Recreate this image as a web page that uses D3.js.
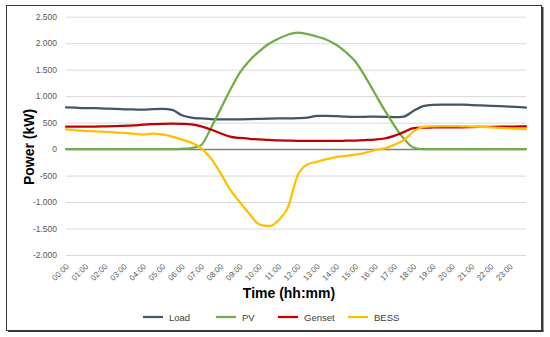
<!DOCTYPE html>
<html>
<head>
<meta charset="utf-8">
<script src="https://cdn.jsdelivr.net/npm/d3@7"></script>
<style>
  html, body { margin: 0; padding: 0; background: #ffffff; }
  svg { display: block; }
  text { font-family: "Liberation Sans", Arial, sans-serif; }
</style>
</head>
<body>
<svg id="chart" width="550" height="337"></svg>
<script>
// ---------- data ----------
const times = ["00:00","00:30","01:00","01:30","02:00","02:30","03:00","03:30","04:00","04:30",
  "05:00","05:30","06:00","06:30","07:00","07:30","08:00","08:30","09:00","09:30",
  "10:00","10:30","11:00","11:30","12:00","12:30","13:00","13:30","14:00","14:30",
  "15:00","15:30","16:00","16:30","17:00","17:30","18:00","18:30","19:00","19:30",
  "20:00","20:30","21:00","21:30","22:00","22:30","23:00","23:30","23:50"];

const load = [790,782,775,772,765,758,752,748,745,755,
  760,740,640,595,578,568,562,560,562,565,
  570,575,578,580,585,595,625,628,622,612,
  608,610,612,610,605,615,720,810,835,840,
  840,838,832,825,818,810,800,792,785];

const pv = [0,0,0,0,0,0,0,0,0,0,
  0,0,5,20,75,390,750,1110,1440,1670,
  1840,1985,2085,2160,2200,2170,2125,2065,1970,1830,
  1650,1370,1055,740,450,200,30,0,0,0,
  0,0,0,0,0,0,0,0,0];

const genset = [425,425,425,425,428,432,440,448,460,470,
  478,480,476,465,430,370,300,236,210,195,
  185,172,165,160,155,155,155,155,155,158,
  162,170,180,200,250,320,395,405,408,410,
  410,412,415,418,420,422,425,428,428];

const bess = [370,355,345,335,325,315,305,290,275,290,
  280,235,180,120,20,-170,-450,-760,-1000,-1220,
  -1420,-1455,-1350,-1100,-500,-290,-240,-190,-150,-130,
  -105,-70,-20,15,80,170,330,420,430,435,
  435,430,425,420,410,400,390,380,375];

const seriesNames = ["Load","PV","Genset","BESS"];
const seriesColors = ["#44546A","#70AD47","#C00000","#FFC000"];
const seriesValues = [load, pv, genset, bess];

const yTicks = [-2000,-1500,-1000,-500,0,500,1000,1500,2000,2500];
const xTickLabels = ["00:00","01:00","02:00","03:00","04:00","05:00","06:00","07:00","08:00","09:00",
  "10:00","11:00","12:00","13:00","14:00","15:00","16:00","17:00","18:00","19:00",
  "20:00","21:00","22:00","23:00"];

// ---------- helpers ----------
const toHours = s => { const [h, m] = s.split(":").map(Number); return h + m / 60; };
const fmt = v => d3.format(",")(v).replace(/,/g, ".").replace("\u2212", "-");

// ---------- layout ----------
const svg = d3.select("#chart");
const plot = { left: 66, right: 526, top: 16.7, bottom: 255 };

const x = d3.scaleLinear().domain([0, toHours("23:50")]).range([plot.left, plot.right]);
const y = d3.scaleLinear().domain([-2000, 2500]).range([plot.bottom, plot.top]);

// frame with shadow
svg.append("rect").attr("x", 6.5).attr("y", 5.5).attr("width", 535).attr("height", 325)
  .attr("fill", "#fff").attr("stroke", "#3a3a3a").attr("stroke-width", 1);
svg.append("line").attr("x1", 542.5).attr("x2", 542.5).attr("y1", 7).attr("y2", 331.5)
  .attr("stroke", "#3a3a3a").attr("stroke-width", 2);
svg.append("line").attr("x1", 8).attr("x2", 543.5).attr("y1", 331).attr("y2", 331)
  .attr("stroke", "#3a3a3a").attr("stroke-width", 2);

// y grid + labels via axis
const yAxis = d3.axisLeft(y).tickValues(yTicks).tickSize(-(plot.right - plot.left)).tickPadding(9)
  .tickFormat(fmt);
const gy = svg.append("g").attr("transform", `translate(${plot.left},0)`).call(yAxis);
gy.select(".domain").remove();
gy.selectAll(".tick line").attr("stroke", d => d === 0 ? "#7f7f7f" : "#d9d9d9")
  .attr("stroke-width", d => d === 0 ? 1.5 : 1);
gy.selectAll(".tick text").attr("fill", "#595959").style("font-size", "8.5px")
  .style("font-family", "'Liberation Sans', Arial, sans-serif");
gy.selectAll(".tick").filter(d => d === 0).raise();

// x labels via axis
const xAxis = d3.axisBottom(x).tickValues(xTickLabels.map(toHours))
  .tickFormat((d, i) => xTickLabels[i]).tickSize(0).tickPadding(0);
const gx = svg.append("g").attr("transform", `translate(0,${plot.bottom})`).call(xAxis);
gx.select(".domain").remove();
gx.selectAll(".tick text")
  .attr("fill", "#595959").style("font-size", "8px")
  .style("font-family", "'Liberation Sans', Arial, sans-serif")
  .attr("text-anchor", "end").attr("dy", null).attr("y", 0)
  .attr("transform", "translate(3,12) rotate(-45)");

// lines
const line = d3.line().x((d, i) => x(toHours(times[i]))).y(d => y(d)).curve(d3.curveMonotoneX);
seriesValues.forEach((vals, k) => {
  svg.append("path").datum(vals).attr("d", line)
    .attr("fill", "none").attr("stroke", seriesColors[k]).attr("stroke-width", 2.25)
    .attr("stroke-linejoin", "round").attr("stroke-linecap", "round");
});

// axis titles
svg.append("text").attr("transform", "translate(34,147) rotate(-90)")
  .attr("text-anchor", "middle").style("font-size", "14px").style("font-weight", "bold")
  .attr("fill", "#000").text("Power (kW)");
svg.append("text").attr("x", 289).attr("y", 298)
  .attr("text-anchor", "middle").style("font-size", "14px").style("font-weight", "bold")
  .attr("fill", "#000").text("Time (hh:mm)");

// legend
const legendX = [143, 216, 278, 348];
const lg = svg.append("g");
seriesNames.forEach((name, k) => {
  lg.append("line").attr("x1", legendX[k]).attr("x2", legendX[k] + 20)
    .attr("y1", 317).attr("y2", 317).attr("stroke", seriesColors[k]).attr("stroke-width", 2.25);
  lg.append("text").attr("x", legendX[k] + 26).attr("y", 320.5)
    .style("font-size", "9.5px").attr("fill", "#404040").text(name);
});
</script>
</body>
</html>
